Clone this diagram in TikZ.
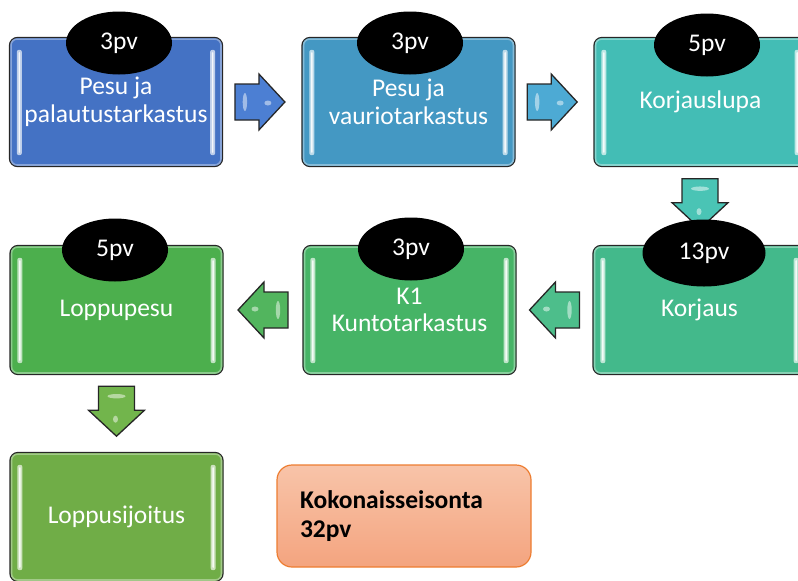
\documentclass[tikz,border=0pt]{standalone}
\usepackage{fontspec}
\setmainfont{Carlito}
\usetikzlibrary{shapes.geometric,calc}
\definecolor{cA}{HTML}{4472C4}
\definecolor{cB}{HTML}{4498C3}
\definecolor{cC}{HTML}{43BDB5}
\definecolor{cD}{HTML}{43B98B}
\definecolor{cE}{HTML}{46B466}
\definecolor{cF}{HTML}{4CAF4D}
\definecolor{cG}{HTML}{70AD47}
\definecolor{aA}{HTML}{4C7FD3}
\definecolor{aB}{HTML}{4DAAD4}
\definecolor{aC}{HTML}{4AC4B5}
\definecolor{aD}{HTML}{4DBE8B}
\definecolor{aE}{HTML}{52B55E}
\definecolor{aF}{HTML}{72B54C}
\definecolor{orTop}{HTML}{F8C4A9}
\definecolor{orBot}{HTML}{F4A47F}
\definecolor{orLine}{HTML}{ED7D31}
\newcommand\boxfont{\fontsize{25.5}{27.5}\selectfont}
\newcommand\boxdeco[2]{%
  \draw[#2!55!white, line width=1.6pt, rounded corners=6pt, opacity=.8]
    ([shift={(2.2pt,-2.2pt)}]#1.north west) rectangle ([shift={(-2.2pt,2.2pt)}]#1.south east);
  \fill[#2!35!white, rounded corners=2pt]
    ([shift={(8pt,-13pt)}]#1.north west) rectangle ([shift={(13pt,12pt)}]#1.south west);
  \fill[white, opacity=.85, rounded corners=1pt]
    ([shift={(9.8pt,-15pt)}]#1.north west) rectangle ([shift={(11.2pt,14pt)}]#1.south west);
  \fill[#2!35!white, rounded corners=2pt]
    ([shift={(-13pt,-13pt)}]#1.north east) rectangle ([shift={(-8pt,12pt)}]#1.south east);
  \fill[white, opacity=.85, rounded corners=1pt]
    ([shift={(-11.2pt,-15pt)}]#1.north east) rectangle ([shift={(-9.8pt,14pt)}]#1.south east);
}
% block arrow drawn at a named coordinate, pointing in direction #2 (visual degrees)
\newcommand\blockarrow[3]{%
  \begin{scope}[shift={(#1)}, rotate=#2]
    \filldraw[fill=#3, draw=black!85, line width=1.3pt, line join=miter]
      (-25,-18) -- (-1,-18) -- (-1,-28) -- (25,0) -- (-1,28) -- (-1,18) -- (-25,18) -- cycle;
    \fill[#3!40!white, opacity=.8] (-15,0) ellipse [x radius=2.2pt, y radius=9pt];
    \fill[#3!40!white, opacity=.8] (8,1) ellipse [x radius=3.5pt, y radius=2.5pt];
  \end{scope}
}
\tikzset{
  stage/.style={rectangle, draw=black!85, line width=1.3pt, rounded corners=8pt,
    minimum width=213pt, minimum height=129pt, inner sep=0pt,
    text=white, align=center, font=\boxfont},
  days/.style={ellipse, fill=black, text=white, minimum width=106pt,
    minimum height=63pt, inner sep=0pt, font=\boxfont},
  totalbox/.style={rectangle, draw=orLine, line width=1.2pt, rounded corners=15pt,
    top color=orTop, bottom color=orBot, minimum width=254pt, minimum height=102pt,
    text width=208pt, align=left, inner sep=0pt,
    font=\fontsize{25.5}{28.5}\selectfont\bfseries},
}
\begin{document}
\begin{tikzpicture}[x=1pt, y=-1pt]
\useasboundingbox (0,0) rectangle (798,581);
\clip (0,0) rectangle (798,581);
% stages
\node[stage, fill=cA] (b1) at (116,102) {Pesu ja\\palautustarkastus};
\node[stage, fill=cB] (b2) at (408.5,102) {Pesu ja\\vauriotarkastus};
\node[stage, fill=cC] (b3) at (700.5,102) {Korjauslupa};
\node[stage, fill=cD] (b6) at (699.5,310) {Korjaus};
\node[stage, fill=cE] (b5) at (409.5,310) {K1\\Kuntotarkastus};
\node[stage, fill=cF] (b4) at (116.5,310) {Loppupesu};
\node[stage, fill=cG] (b7) at (116.5,517) {Loppusijoitus};
\boxdeco{b1}{cA}
\boxdeco{b2}{cB}
\boxdeco{b3}{cC}
\boxdeco{b6}{cD}
\boxdeco{b5}{cE}
\boxdeco{b4}{cF}
\boxdeco{b7}{cG}
% block arrows
\coordinate (a1) at ($(b1.east)!0.47!(b2.west)$);
\coordinate (a2) at ($(b2.east)!0.47!(b3.west)$);
\coordinate (a3) at ($(b3.south)!0.47!(b6.north)$);
\coordinate (a4) at ($(b6.west)!0.5!(b5.east)$);
\coordinate (a5) at ($(b5.west)!0.5!(b4.east)$);
\coordinate (a6) at ($(b4.south)!0.47!(b7.north)$);
\blockarrow{a1}{0}{aA}
\blockarrow{a2}{0}{aB}
\blockarrow{a3}{-90}{aC}
\blockarrow{a4}{180}{aD}
\blockarrow{a5}{180}{aE}
\blockarrow{a6}{-90}{aF}
% duration ellipses
\node[days] (e1) at (119,43) {3pv};
\node[days] (e2) at (410,43) {3pv};
\node[days] (e3) at (707,45) {5pv};
\node[days] (e4) at (115,250) {5pv};
\node[days] (e5) at (411,249) {3pv};
\node[days, minimum width=123pt, minimum height=67pt] (e6) at (704,253) {13pv};
% total
\node[totalbox] (tot) at (404,516) {Kokonaisseisonta\\32pv};
\end{tikzpicture}
\end{document}
